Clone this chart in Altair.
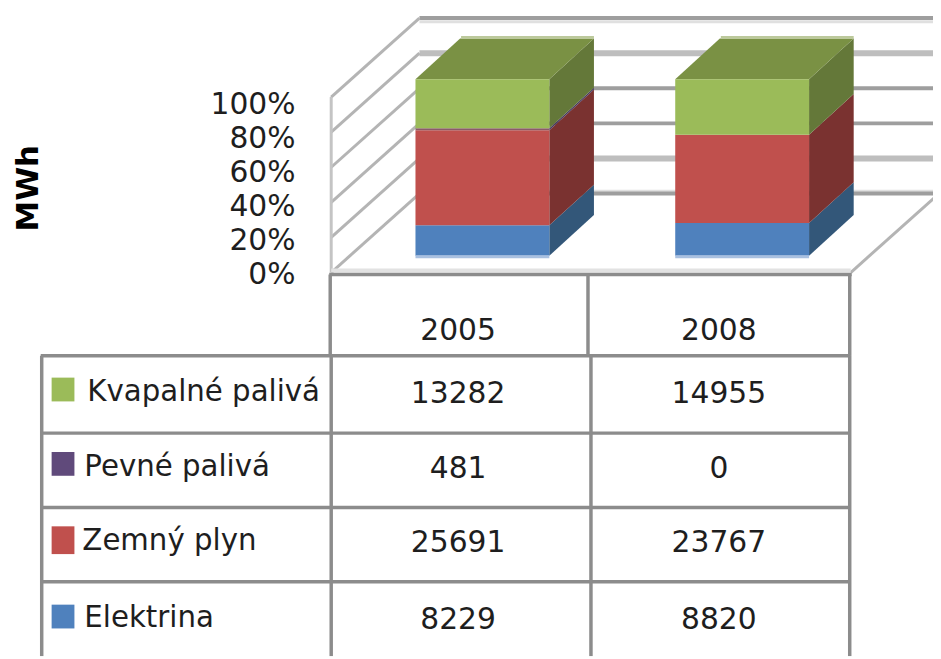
import altair as alt
import pandas as pd

# ---- values ----
years = ["2005", "2008"]
fuels = ["Kvapalné palivá", "Pevné palivá", "Zemný plyn", "Elektrina"]
kvapalne = [13282, 14955]
pevne = [481, 0]
plyn = [25691, 23767]
elektrina = [8229, 8820]
pct_ticks = [0, 20, 40, 60, 80, 100]
axis_title = "MWh"

series = {"Elektrina": elektrina, "Zemný plyn": plyn, "Pevné palivá": pevne, "Kvapalné palivá": kvapalne}
front_colors = {"Elektrina": "#4F81BD", "Zemný plyn": "#C0504D", "Pevné palivá": "#8A5A68", "Kvapalné palivá": "#9BBB59"}
side_colors = {"Elektrina": "#335779", "Zemný plyn": "#7A3230", "Pevné palivá": "#4A3A60", "Kvapalné palivá": "#647839"}
legend_colors = {"Kvapalné palivá": "#9BBB59", "Pevné palivá": "#604A7B", "Zemný plyn": "#C0504D", "Elektrina": "#4F81BD"}

# ---- layout (canvas pixels of the window, mapped by the canvas scale) ----
W, H, M = 941, 659, 8
FONT = "DejaVu Sans"
BAR_LEFT = {"2005": 419, "2008": 681}
BAR_W = 135
DEPTH_X, DEPTH_PCT = 45, 23.0
WALL_DEPTH_X, WALL_DEPTH_PCT = 89, 45.0
GRID = "#8C8C8C"

xs = alt.Scale(domain=[M, W], range=[0, W - M], nice=False, zero=False)
canvas_y = alt.Scale(domain=[M, H], range=[0, H - M], nice=False, zero=False)
bar_y = alt.Scale(domain=[0, 100], range=[255 - M, 77 - M], nice=False, zero=False)
wall_y = alt.Scale(domain=[0, 100], range=[272 - M, 95 - M], nice=False, zero=False)
tick_y = alt.Scale(domain=[0, 100], range=[275 - M, 103 - M], nice=False, zero=False)


def X(f="x"):
    return alt.X(f"{f}:Q", scale=xs, axis=None)


def rules(rows, scale, color, width, clip=False):
    return alt.Chart(pd.DataFrame(rows, columns=["x", "y", "x2", "y2"])).mark_rule(
        color=color, strokeWidth=width, clip=clip
    ).encode(
        x=X(), x2="x2:Q",
        y=alt.Y("y:Q", scale=scale, axis=None), y2="y2:Q",
    )


# ---- stacked shares ----
front, side, top = [], [], []
for i, yr in enumerate(years):
    total = sum(s[i] for s in series.values())
    base = 0.0
    l, r = BAR_LEFT[yr], BAR_LEFT[yr] + BAR_W
    for fuel, vals in series.items():
        share = vals[i] / total * 100
        if vals[i] > 0:
            front.append(dict(year=yr, fuel=fuel, x=l, x2=r, y=base, y2=base + share))
            side.append(dict(key=yr + fuel, fuel=fuel, x=r, y=base, y2=base + share))
            side.append(dict(key=yr + fuel, fuel=fuel, x=r + DEPTH_X, y=base + DEPTH_PCT, y2=base + share + DEPTH_PCT))
        base += share
    top.append(dict(key=yr, x=l, x2=r, y=100))
    top.append(dict(key=yr, x=l + DEPTH_X, x2=r + DEPTH_X, y=100 + DEPTH_PCT))

fuel_order = list(series)
side_layer = alt.Chart(pd.DataFrame(side)).mark_area(orient="vertical").encode(
    x=X(), y=alt.Y("y:Q", scale=bar_y, axis=None, stack=None), y2="y2:Q",
    detail="key:N",
    color=alt.Color("fuel:N", legend=None, scale=alt.Scale(domain=fuel_order, range=[side_colors[f] for f in fuel_order])),
)
top_layer = alt.Chart(pd.DataFrame(top)).mark_area(orient="horizontal", color="#7A9144").encode(
    y=alt.Y("y:Q", scale=bar_y, axis=None), x=alt.X("x:Q", scale=xs, axis=None, stack=None), x2="x2:Q",
    detail="key:N",
)
front_layer = alt.Chart(pd.DataFrame(front)).mark_rect().encode(
    x=X(), x2="x2:Q", y=alt.Y("y:Q", scale=bar_y, axis=None), y2="y2:Q",
    color=alt.Color("fuel:N", legend=None, scale=alt.Scale(domain=fuel_order, range=[front_colors[f] for f in fuel_order])),
)
bar_foot = rules([(419, 256, 554, 256), (681, 256, 816, 256)], canvas_y, "#A9C0E0", 3)
bar_cap = rules([(465, 35, 599, 35), (727, 35, 861, 35)], canvas_y, "#BCC99C", 3)

# ---- walls and floor ----
wx, bx = 334, 334 + WALL_DEPTH_X
back_dark = rules([(bx, p + WALL_DEPTH_PCT, W, p + WALL_DEPTH_PCT) for p in (0, 40, 60, 100)], wall_y, "#9E9E9E", 4, clip=True)
back_light = rules([(bx, p + WALL_DEPTH_PCT, W, p + WALL_DEPTH_PCT) for p in (20, 80)], wall_y, "#BEBEBE", 6, clip=True)
wall_diag = rules([(wx, p, bx, p + WALL_DEPTH_PCT) for p in pct_ticks], wall_y, "#B4B4B4", 3)
wall_edge = rules([(wx, 0, wx, 100)], wall_y, "#C4C4C4", 3)
floor_diag = rules([(858, 0, 858 + WALL_DEPTH_X, WALL_DEPTH_PCT)], wall_y, "#B4B4B4", 3, clip=True)
floor_light = rules([(334, 270, 858, 270)], canvas_y, "#E2E2E2", 4)
back_light2 = rules([(bx, 19, W, 19), (bx, 190, W, 190)], canvas_y, "#E0E0E0", 3, clip=True)

# ---- data table ----
table_h = [(332, 274, 859, 274), (41, 356, 858, 356), (41, 434, 858, 434), (41, 509, 858, 509), (41, 584, 858, 584)]
table_v = [(333, 274, 333, 356), (593, 274, 593, 356), (857, 274, 857, 356),
           (42, 356, 42, H), (334, 356, 334, H), (596, 356, 596, H), (857, 356, 857, H)]
table_lines = rules(table_h + table_v, canvas_y, GRID, 3.5, clip=True)

row_y = {"Kvapalné palivá": 395, "Pevné palivá": 470, "Zemný plyn": 545, "Elektrina": 623}
col_x = {"2005": 462, "2008": 725}
cells = []
for fuel in fuels:
    for i, yr in enumerate(years):
        cells.append(dict(x=col_x[yr], y=row_y[fuel], t=str(series[fuel][i])))
for yr in years:
    cells.append(dict(x=col_x[yr], y=331, t=yr))


def text(df, size=30, **kw):
    return alt.Chart(df).mark_text(font=FONT, fontSize=size, color="#1E1E1E", baseline="middle", **kw).encode(
        x=X(), y=alt.Y("y:Q", scale=canvas_y, axis=None), text="t:N"
    )


cell_text = text(pd.DataFrame(cells), align="center")

label_pos = {"Kvapalné palivá": (88, 393, 378, 402), "Pevné palivá": (85, 468, 453, 477),
             "Zemný plyn": (83, 543, 528, 556), "Elektrina": (85, 621, 607, 631)}
legend_text = text(pd.DataFrame([dict(x=label_pos[f][0], y=label_pos[f][1], t=f) for f in fuels]), size=29.5, align="left")
swatches = alt.Chart(pd.DataFrame([dict(fuel=f, x=52, x2=75, y=label_pos[f][2], y2=label_pos[f][3]) for f in fuels])).mark_rect().encode(
    x=X(), x2="x2:Q", y=alt.Y("y:Q", scale=canvas_y, axis=None), y2="y2:Q",
    color=alt.Color("fuel:N", legend=None, scale=alt.Scale(domain=fuels, range=[legend_colors[f] for f in fuels])),
)

tick_text = alt.Chart(pd.DataFrame({"p": pct_ticks, "t": [f"{p}%" for p in pct_ticks], "x": [298] * 6})).mark_text(
    font=FONT, fontSize=30, color="#1E1E1E", baseline="middle", align="right"
).encode(x=X(), y=alt.Y("p:Q", scale=tick_y, axis=None), text="t:N")

title_text = alt.Chart(pd.DataFrame([dict(x=29, y=187, t=axis_title)])).mark_text(
    font=FONT, fontSize=31, fontWeight="bold", color="#000000", baseline="middle", align="center", angle=270
).encode(x=X(), y=alt.Y("y:Q", scale=canvas_y, axis=None), text="t:N")

chart = alt.layer(
    back_light2, back_dark, back_light, wall_diag, wall_edge, floor_diag, floor_light,
    side_layer, top_layer, bar_cap, front_layer, bar_foot,
    table_lines, cell_text, legend_text, swatches, tick_text, title_text,
).resolve_scale(x="independent", y="independent", color="independent").properties(
    width=W - M, height=H - M, padding=0, background="#FFFFFF"
).configure_view(stroke=None)

chart.save("out.html", embed_options={"renderer": "svg", "actions": False})
